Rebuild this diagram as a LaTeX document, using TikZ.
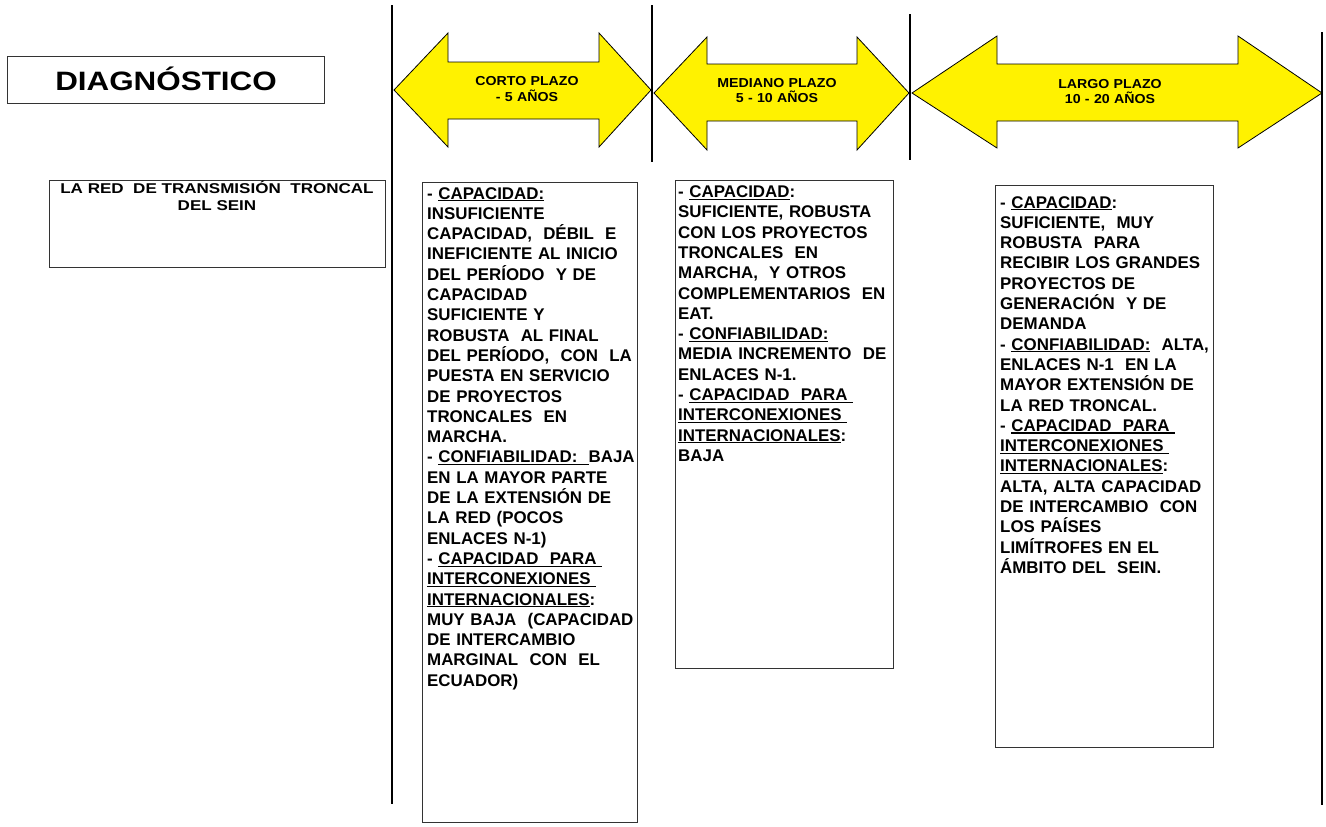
\documentclass[tikz,border=0pt]{standalone}
\usepackage{fontspec}
\setmainfont{Liberation Sans}
\newfontfamily\diagfont[FakeStretch=1.18]{Liberation Sans}
\newfontfamily\redfont[FakeStretch=1.2]{Liberation Sans}
\newfontfamily\arrfont[FakeStretch=1.09]{Liberation Sans}
\newsavebox\ulbox
\newcommand{\uln}[1]{\leavevmode\sbox\ulbox{#1}\rlap{\rule[-2.3pt]{\wd\ulbox}{1.2pt}}\usebox\ulbox}
\begin{document}
\begin{tikzpicture}[x=1pt,y=-1pt,
  frame/.style={draw=black!80, line width=1.2pt, fill=white, inner sep=0pt, anchor=north west},
  body/.style={anchor=base west, inner sep=0pt, text width=#1, align=left,
    font=\fontsize{16.9}{20.3}\selectfont\bfseries},
  arrlabel/.style={anchor=base, inner sep=0pt, text width=160pt, align=center,
    font=\arrfont\fontsize{13}{15.5}\selectfont\bfseries},
  arrowbody/.style={fill=yellow, draw=black, line width=0.8pt, line join=miter},
  divider/.style={draw=black, line width=1.8pt}
]
\useasboundingbox (0,0) rectangle (1326,827);

% left boxes
\node[frame, minimum width=317pt, minimum height=47pt] (diag) at (7,56) {};
\node[anchor=base, inner sep=0pt, font=\diagfont\fontsize{26.6}{30}\selectfont\bfseries] (diagt) at (166,90) {DIAGNÓSTICO};

\node[frame, minimum width=336pt, minimum height=87pt] (red) at (49,180) {};
\node[anchor=base, inner sep=0pt, text width=330pt, align=center,
  font=\redfont\fontsize{14.2}{17}\selectfont\bfseries] (redt) at (217,193.5)
  {LA RED\ \ DE TRANSMISIÓN\ \ TRONCAL\\DEL SEIN};

% arrows
\draw[arrowbody] (394,90) -- (448,33) -- (448,62) -- (599,62) -- (599,33) -- (651,90)
  -- (599,147) -- (599,119) -- (448,119) -- (448,147) -- cycle;
\draw[arrowbody] (654,93) -- (707,37) -- (707,64) -- (857,64) -- (857,37) -- (909,93)
  -- (857,150) -- (857,121) -- (707,121) -- (707,150) -- cycle;
\draw[arrowbody] (912,93) -- (997,36) -- (997,64) -- (1238,64) -- (1238,36) -- (1322,93)
  -- (1238,148) -- (1238,121) -- (997,121) -- (997,148) -- cycle;

\node[arrlabel] (a1) at (527,85.5) {CORTO PLAZO\\- 5 AÑOS};
\node[arrlabel] (a2) at (777,87) {MEDIANO PLAZO\\5 - 10 AÑOS};
\node[arrlabel] (a3) at (1110,88) {LARGO PLAZO\\10 - 20 AÑOS};

% content boxes
\node[frame, minimum width=215pt, minimum height=640pt] (b1) at (422,182) {};
\node[body=210pt] (t1) at (427,199) {%
- \uln{CAPACIDAD:}\\
INSUFICIENTE\\
CAPACIDAD,\ \ DÉBIL\ \ E\\
INEFICIENTE AL INICIO\\
DEL PERÍODO\ \ Y DE\\
CAPACIDAD\\
SUFICIENTE Y\\
ROBUSTA\ \ AL FINAL\\
DEL PERÍODO,\ \ CON\ \ LA\\
PUESTA EN SERVICIO\\
DE PROYECTOS\\
TRONCALES\ \ EN\\
MARCHA.\\
- \uln{CONFIABILIDAD:\ \ }BAJA\\
EN LA MAYOR PARTE\\
DE LA EXTENSIÓN DE\\
LA RED (POCOS\\
ENLACES N-1)\\
- \uln{CAPACIDAD\ \ PARA\ }\\
\uln{INTERCONEXIONES\ }\\
\uln{INTERNACIONALES}:\\
MUY BAJA\ \ (CAPACIDAD\\
DE INTERCAMBIO\\
MARGINAL\ \ CON\ \ EL\\
ECUADOR)};

\node[frame, minimum width=218pt, minimum height=488pt] (b2) at (675,180) {};
\node[body=214pt] (t2) at (678,197.5) {%
- \uln{CAPACIDAD}:\\
SUFICIENTE, ROBUSTA\\
CON LOS PROYECTOS\\
TRONCALES\ \ EN\\
MARCHA,\ \ Y OTROS\\
COMPLEMENTARIOS\ \ EN\\
EAT.\\
- \uln{CONFIABILIDAD:}\\
MEDIA INCREMENTO\ \ DE\\
ENLACES N-1.\\
- \uln{CAPACIDAD\ \ PARA\ }\\
\uln{INTERCONEXIONES\ }\\
\uln{INTERNACIONALES}:\\
BAJA};

\node[frame, minimum width=218pt, minimum height=562pt] (b3) at (995,185) {};
\node[body=214pt] (t3) at (1000,208) {%
- \uln{CAPACIDAD}:\\
SUFICIENTE,\ \ MUY\\
ROBUSTA\ \ PARA\\
RECIBIR LOS GRANDES\\
PROYECTOS DE\\
GENERACIÓN\ \ Y DE\\
DEMANDA\\
- \uln{CONFIABILIDAD:}\ \ ALTA,\\
ENLACES N-1\ \ EN LA\\
MAYOR EXTENSIÓN DE\\
LA RED TRONCAL.\\
- \uln{CAPACIDAD\ \ PARA\ }\\
\uln{INTERCONEXIONES\ }\\
\uln{INTERNACIONALES}:\\
ALTA, ALTA CAPACIDAD\\
DE INTERCAMBIO\ \ CON\\
LOS PAÍSES\\
LIMÍTROFES EN EL\\
ÁMBITO DEL\ \ SEIN.};

% divider lines
\draw[divider] (392,5) -- (392,804);
\draw[divider] (652,5) -- (652,162);
\draw[divider] (910,14) -- (910,160);
\draw[divider] (1322,32) -- (1322,805);
\end{tikzpicture}
\end{document}
